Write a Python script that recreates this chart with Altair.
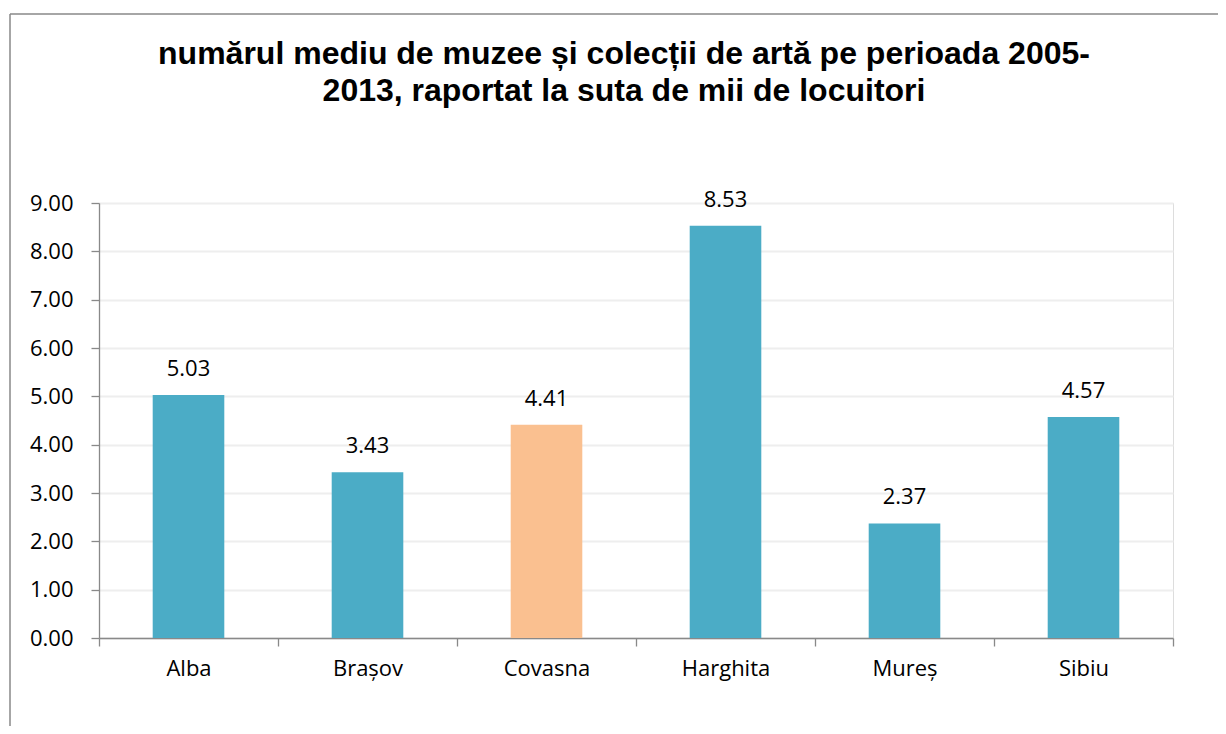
import altair as alt
import pandas as pd

judete = ["Alba", "Brașov", "Covasna", "Harghita", "Mureș", "Sibiu"]
valori = [5.03, 3.43, 4.41, 8.53, 2.37, 4.57]
culori = ["#4BACC6", "#4BACC6", "#FAC090", "#4BACC6", "#4BACC6", "#4BACC6"]
titlu = ["numărul mediu de muzee și colecții de artă pe perioada 2005-",
         "2013, raportat la suta de mii de locuitori"]

df = pd.DataFrame({"judet": judete, "valoare": valori, "culoare": culori})

W, H = 1074, 435
LF = "Open Sans"

x = alt.X("judet:N", sort=judete, title=None,
          scale=alt.Scale(paddingInner=0, paddingOuter=0),
          axis=alt.Axis(labelAngle=0, labelFont=LF, labelFontSize=22, labelColor="#000000",
                        labelPadding=12, tickBand="extent", tickSize=8, tickColor="#898989",
                        tickWidth=1.3, domainColor="#898989", domainWidth=1.3, grid=False))
y = alt.Y("valoare:Q", title=None,
          scale=alt.Scale(domain=[0, 9], nice=False),
          axis=alt.Axis(values=list(range(10)), format=".2f", labelFont=LF, labelFontSize=22,
                        labelColor="#000000", labelPadding=18, tickSize=8, tickColor="#898989",
                        tickWidth=1.3, domainColor="#898989", domainWidth=1.3,
                        gridColor="#EEEEEE", gridWidth=2))

bars = alt.Chart(df).mark_bar(width=alt.RelativeBandSize(0.4)).encode(
    x=x, y=y, color=alt.Color("culoare:N", scale=None))
labels = alt.Chart(df).mark_text(font=LF, fontSize=22, color="#000000", baseline="alphabetic",
                                 dy=-19).encode(x=alt.X("judet:N", sort=judete),
                                                y="valoare:Q",
                                                text=alt.Text("valoare:Q", format=".2f"))

title_mark = alt.Chart(df.head(1)).mark_text(
    font="Liberation Sans", fontSize=32, fontWeight="bold", color="#000000",
    align="center", baseline="alphabetic", lineHeight=37).encode(
    x=alt.value(525), y=alt.value(-139), text=alt.value(titlu))

frame_v = alt.Chart(df.head(1)).mark_rule(color="#888888", strokeWidth=1.5).encode(
    x=alt.value(-89), y=alt.value(-189), y2=alt.value(540))
frame_h = alt.Chart(df.head(1)).mark_rule(color="#888888", strokeWidth=1.5).encode(
    x=alt.value(-89), x2=alt.value(1140), y=alt.value(-189))

chart = alt.layer(bars, labels, title_mark, frame_v, frame_h).properties(
    width=W, height=H,
    autosize=alt.AutoSizeParams(type="none"),
    padding={"left": 91, "top": 195, "right": 45, "bottom": 88},
).configure_view(stroke=None).configure(background="white")

chart.save("out.html", embed_options={"renderer": "svg", "actions": False})
